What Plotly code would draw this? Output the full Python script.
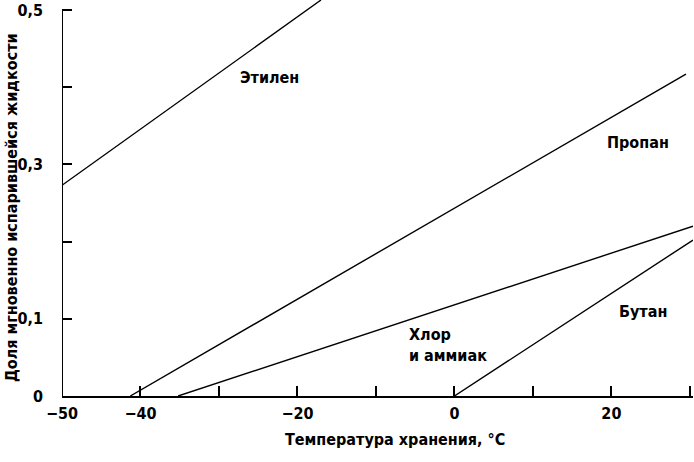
import plotly.graph_objects as go

# Data (temperature, fraction flashed)
ethylene_x = [-50, -17.0]
ethylene_y = [0.273, 0.513]
propane_x = [-41.3, 29.5]
propane_y = [0.0, 0.417]
chlorine_x = [-35.2, 30.4]
chlorine_y = [0.0, 0.22]
butane_x = [0.0, 30.4]
butane_y = [0.0, 0.202]

x_ticks = [-50, -40, -30, -20, -10, 0, 10, 20, 30]
x_ticktext = ["\u221250", "\u221240", "", "\u221220", "", "0", "", "20", ""]
y_ticks = [0, 0.1, 0.2, 0.3, 0.4, 0.5]
y_ticktext = ["0", "0,1", "", "0,3", "", "0,5"]

FONT = "DejaVu Sans Condensed, Arial Narrow, sans-serif"

fig = go.Figure()
for xs, ys in [(ethylene_x, ethylene_y), (propane_x, propane_y),
               (chlorine_x, chlorine_y), (butane_x, butane_y)]:
    fig.add_trace(go.Scatter(x=xs, y=ys, mode="lines",
                             line=dict(color="black", width=1.4),
                             showlegend=False, hoverinfo="skip"))

# Curve labels
labels = [
    ("Этилен", -23.5, 0.412, "center"),
    ("Пропан", 23.4, 0.329, "center"),
    ("Хлор<br>и аммиак", -6.0, 0.066, "left"),
    ("Бутан", 24.0, 0.110, "center"),
]
for text, lx, ly, al in labels:
    fig.add_annotation(x=lx, y=ly, text=text, showarrow=False, align=al,
                       xanchor="left" if al == "left" else "center",
                       font=dict(family=FONT, size=16, color="black", weight="bold"))

# y axis line only up to 0.5
fig.add_shape(type="line", xref="x", yref="y", x0=-50, x1=-50, y0=0, y1=0.5,
              line=dict(color="black", width=2))

# axis titles
fig.add_annotation(text="Доля мгновенно испарившейся жидкости", textangle=-90,
                   xref="paper", yref="paper", x=-0.079, y=0.475,
                   xanchor="center", yanchor="middle", showarrow=False,
                   font=dict(family=FONT, size=16, color="black", weight="bold"))
fig.add_annotation(text="Температура хранения, °С",
                   xref="paper", yref="paper", x=0.528, y=-0.111,
                   xanchor="center", yanchor="middle", showarrow=False,
                   font=dict(family=FONT, size=16, color="black", weight="bold"))

fig.update_xaxes(range=[-50, 30.4], tickvals=x_ticks, ticktext=x_ticktext,
                 ticks="inside", ticklen=10, tickwidth=1.5, tickcolor="black",
                 showline=True, linecolor="black", linewidth=2,
                 showgrid=False, zeroline=False, ticklabelstandoff=2,
                 tickfont=dict(family=FONT, size=16, color="black", weight="bold"))
fig.update_yaxes(range=[0, 0.513], tickvals=y_ticks, ticktext=y_ticktext,
                 ticks="inside", ticklen=10, tickwidth=1.5, tickcolor="black",
                 showline=False, showgrid=False, zeroline=False, ticklabelstandoff=18,
                 tickfont=dict(family=FONT, size=16, color="black", weight="bold"))

fig.update_layout(width=694, height=462, plot_bgcolor="white", paper_bgcolor="white",
                  margin=dict(l=62, r=1, t=0, b=66))

# the page's default body margin would push the figure off by 8px
fig.write_html("out.html", config={"displayModeBar": False},
               post_script="document.body.style.margin='0px';")
